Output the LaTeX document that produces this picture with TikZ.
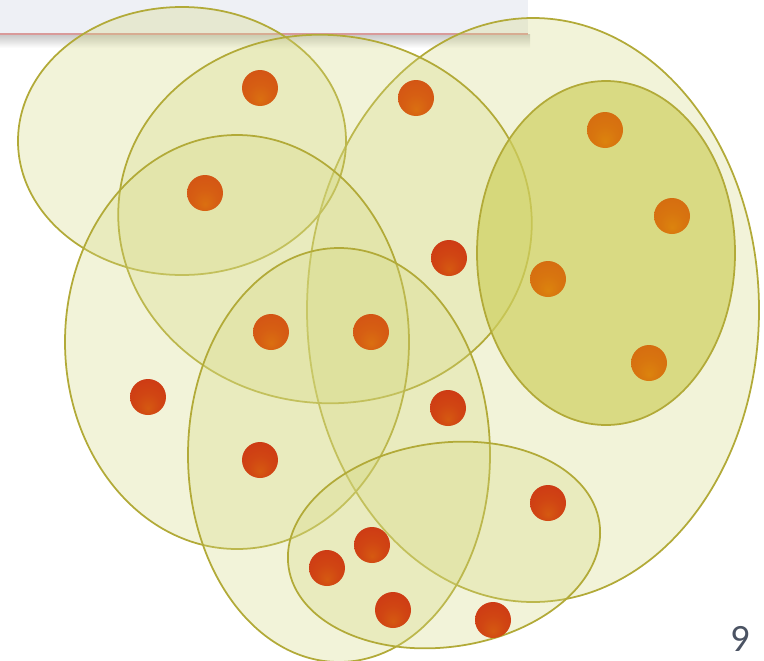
\documentclass[tikz,border=0pt]{standalone}
\usepackage{fontspec}
\setsansfont{Carlito}
\definecolor{cfill}{HTML}{D4D880}
\definecolor{cdark}{HTML}{CFD060}
\definecolor{cedge}{HTML}{B2AA38}
\definecolor{cballA}{HTML}{D66E10}
\definecolor{cballB}{HTML}{D45614}
\definecolor{cballC}{HTML}{CE3C14}
\definecolor{cpanel}{HTML}{EEF0F5}
\definecolor{cpink}{HTML}{D99A9A}
\definecolor{cnum}{HTML}{4B5363}
\colorlet{cbead}{cballC}
\pgfdeclareradialshading[cbead]{glass}{\pgfpoint{0bp}{-16bp}}{%
  color(0bp)=(cbead!85!yellow); color(16bp)=(cbead!95!yellow);
  color(30bp)=(cbead); color(44bp)=(cbead!85!black); color(50bp)=(cbead!65!black)}
\tikzset{
  every picture/.style={line width=1pt},
  cluster/.style={draw=cedge, fill=#1, fill opacity=0.3},
  cluster/.default=cfill,
  bead/.style={circle, inner sep=0pt, minimum size=0.72cm, /utils/exec={\colorlet{cbead}{#1}}, shading=glass},
  bead/.default=cballC,
  pageno/.style={font=\sffamily\fontsize{22}{26}\selectfont, text=cnum, inner sep=0pt},
}

\begin{document}
\begin{tikzpicture}[x=0.02cm, y=-0.02cm]
  \useasboundingbox (0,0) rectangle (764,660);
  % title panel
  \shade[top color=gray!45, bottom color=white] (0,34) rectangle (530,48);
  \fill[cpanel] (0,0) rectangle (528,34);
  \draw[cpink, line width=1.5pt] (0,34) -- (528,34);
  % clusters
  \draw[cluster] (533,310) ellipse (226 and 292);
  \draw[cluster] (182,141) ellipse (164 and 134);
  \draw[cluster, rotate around={-6:(325,219)}] (325,219) ellipse (207 and 184);
  \draw[cluster] (237,342) ellipse (172 and 207);
  \draw[cluster] (339,455) ellipse (151 and 207);
  \draw[cluster, rotate around={8:(444,545)}] (444,545) ellipse (157 and 102);
  \draw[cluster=cdark, fill opacity=0.7] (606,253) ellipse (129 and 172);
  % points
  \foreach \x/\y/\c [count=\i] in {605/130/cballA, 672/216/cballA, 548/279/cballA, 649/363/cballA,
      260/88/cballB, 416/98/cballB, 205/193/cballB, 271/332/cballB, 371/332/cballB,
      449/258/cballC, 148/397/cballC, 448/408/cballC, 260/460/cballC, 548/503/cballC,
      372/545/cballC, 327/568/cballC, 393/610/cballC, 493/620/cballC}
    \node[bead=\c] (p\i) at (\x,\y) {};
  % page number
  \node[pageno, anchor=base] (num) at (740,651) {9};
\end{tikzpicture}
\end{document}
